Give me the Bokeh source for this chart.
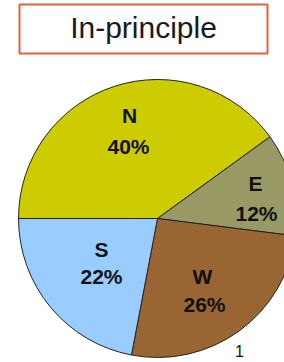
import numpy as np
from bokeh.plotting import figure
from bokeh.models import Range1d
from bokeh.core.properties import value
from bokeh.embed import file_html
from bokeh.resources import INLINE

title_text = "In-principle"
categories = ["N", "E", "W", "S"]
shares = [40, 12, 26, 22]
colors = ["#CCCC00", "#999966", "#996633", "#99CCFF"]
pct_labels = ["40%", "12%", "26%", "22%"]
page_number = "1"

W, H = 284, 362


def sy(y):
    # screen y (from top of figure) -> data y
    return H - y


p = figure(width=W, height=H, output_backend="svg", toolbar_location=None,
           x_range=Range1d(0, W), y_range=Range1d(0, H),
           min_border=0, outline_line_color=None)
p.axis.visible = False
p.grid.visible = False
p.background_fill_color = "white"
p.border_fill_color = "white"

# pie
cx, cy, r = 157, sy(218), 139
fr = np.array(shares, dtype=float) / sum(shares)
start_deg = 180.0
ends = start_deg - np.cumsum(fr) * 360.0
starts = np.concatenate([[start_deg], ends[:-1]])
p.wedge(x=cx, y=cy, radius=r,
        start_angle=np.radians(starts), end_angle=np.radians(ends),
        direction="clock", fill_color=colors, line_color="#222222", line_width=1)

# slice labels (name and percentage), positions per slice (vertical middles)
name_x = [129, 255, 202, 101]
name_y = [115, 182.5, 276, 248.5]
pct_x = [128, 256, 204, 101]
pct_y = [145.5, 212.5, 303.5, 275.5]
p.text(x=name_x, y=[sy(v) for v in name_y], text=categories,
       text_font=value("Liberation Sans"), text_font_style="bold",
       text_font_size="21px", text_align="center", text_baseline="middle",
       text_color="#111111")
p.text(x=pct_x, y=[sy(v) for v in pct_y], text=pct_labels,
       text_font=value("Liberation Sans"), text_font_style="bold",
       text_font_size="21px", text_align="center", text_baseline="middle",
       text_color="#111111")

# title box
p.quad(left=19, right=267, top=sy(4), bottom=sy(53), fill_color="white",
       line_color="#E2603C", line_width=2)
p.text(x=[143], y=[sy(27)], text=[title_text],
       text_font=value("Liberation Sans"), text_font_size="30px",
       text_align="center", text_baseline="middle", text_color="#1a1a1a")

# page number
p.text(x=[239], y=[sy(350)], text=[page_number],
       text_font=value("Liberation Sans"), text_font_size="16px",
       text_align="center", text_baseline="middle", text_color="#111111")

open("out.html", "w").write(file_html(p, INLINE))
